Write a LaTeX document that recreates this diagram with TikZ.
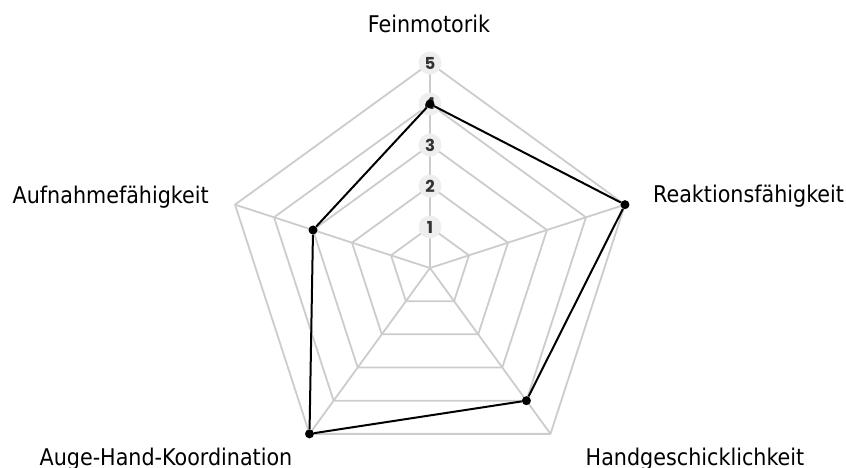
\documentclass[tikz,border=0pt]{standalone}
\usepackage{fontspec}
\setmainfont{DejaVu Sans Condensed}
\newfontfamily\numfont{Poppins}
\definecolor{gridgray}{HTML}{CCCCCC}
\definecolor{bubble}{HTML}{EEEEEE}
\definecolor{digit}{HTML}{333333}

\begin{document}
\begin{tikzpicture}[x=1pt,y=1pt,
    grid/.style={draw=gridgray, line width=1.8pt, line join=round},
    level/.style={circle, fill=bubble, minimum size=23pt, inner sep=0pt,
        font=\numfont\bfseries\fontsize{16.5}{16.5}\selectfont, text=digit},
    axis/.style={inner sep=0pt, font=\fontsize{23}{23}\selectfont},
    dot/.style={circle, fill=black, minimum size=9pt, inner sep=0pt},
    data/.style={draw=black, line width=2pt, line join=round}]
    \useasboundingbox (-430,-199) rectangle (416,268);

    % web
    \foreach \r in {41,82,123,164,205}
        \draw[grid] (90:\r) -- (18:\r) -- (-54:\r) -- (-126:\r) -- (162:\r) -- cycle;
    \foreach \a in {90,18,-54,-126,162}
        \draw[grid] (0,0) -- (\a:205);
    \foreach \k in {1,...,5}
        \node[level] (l\k) at (90:{41*\k}) {\k};

    % axis names
    \node[axis, anchor=base] (fein) at (-1,236) {Feinmotorik};
    \node[axis, anchor=base west] (reak) at (223,66) {Reaktionsfähigkeit};
    \node[axis, anchor=base east] (aufn) at (-221,65) {Aufnahmefähigkeit};
    \node[axis, anchor=base] (auge) at (-264,-197) {Auge-Hand-Koordination};
    \node[axis, anchor=base] (hand) at (265,-197) {Handgeschicklichkeit};

    % values
    \node[dot] (fm) at (90:164) {};
    \node[dot] (rf) at (18:205) {};
    \node[dot] (hg) at (-54:164) {};
    \node[dot] (ah) at (-126:205) {};
    \node[dot] (af) at (162:123) {};

    \path[data]
    (fm) -- (rf) -- (hg) -- (ah) -- (af) -- (fm);
\end{tikzpicture}
\end{document}
